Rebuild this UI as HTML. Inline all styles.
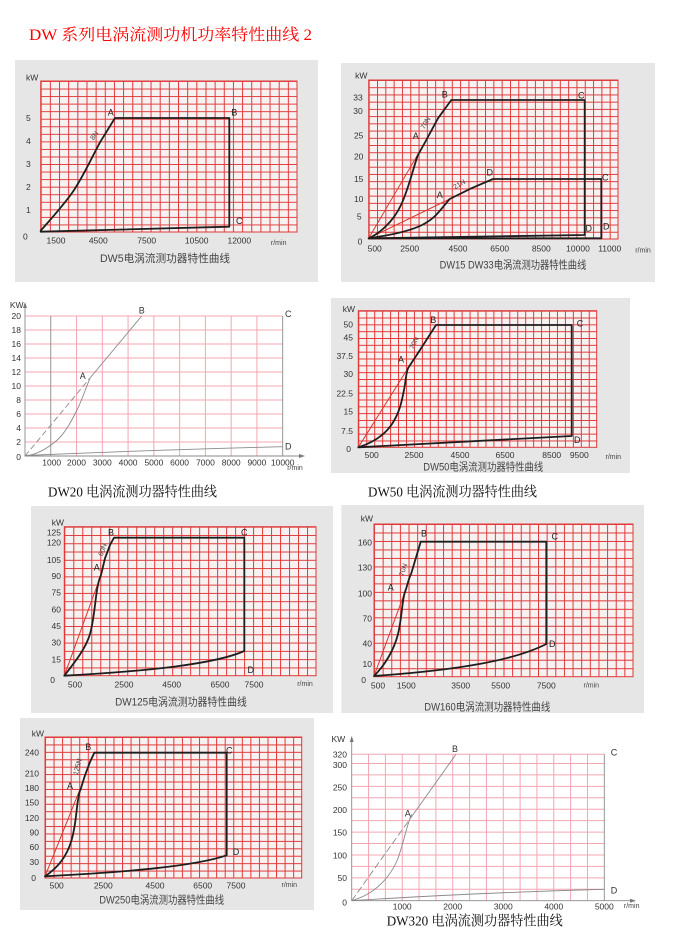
<!DOCTYPE html>
<html><head><meta charset="utf-8">
<style>
html,body{margin:0;padding:0;background:#fff;}
svg{display:block;}
text{font-family:"Liberation Sans","Noto Sans CJK SC",sans-serif;}
.t{font-size:8.5px;fill:#333;}
.tl{font-size:9px;fill:#222;}
.sm{font-size:7px;fill:#444;}
.cap{font-size:11px;fill:#444;}
.ser{font-family:"Liberation Serif","Noto Serif CJK SC",serif;font-size:14px;fill:#111;}
.c{fill:none;stroke:#1e1e1e;stroke-width:1.8;stroke-linejoin:round;stroke-linecap:round;}
.r{fill:none;stroke:#d8382e;stroke-width:1;}
.g{fill:none;stroke:#8a8a8a;stroke-width:0.9;}
.pk{fill:none;stroke:#f4a6b2;stroke-width:1;}
</style></head><body>
<svg width="678" height="935" viewBox="0 0 678 935" xmlns="http://www.w3.org/2000/svg">
<defs>
<pattern id="p1" patternUnits="userSpaceOnUse" x="40.7" y="81" width="9.154" height="7.55"><path d="M0 0.5H9.154M0.5 0V7.55" stroke="#e03a3a" stroke-width="1"/></pattern>
<pattern id="p2" patternUnits="userSpaceOnUse" x="368.7" y="80" width="8.31" height="7.227"><path d="M0 0.5H8.31M0.5 0V7.227" stroke="#e03a3a" stroke-width="1"/></pattern>
<pattern id="p4" patternUnits="userSpaceOnUse" x="358.3" y="310.7" width="7.947" height="6.83"><path d="M0 0.5H7.947M0.5 0V6.83" stroke="#e03a3a" stroke-width="1"/></pattern>
<pattern id="p5" patternUnits="userSpaceOnUse" x="64.3" y="526.7" width="8.99" height="8.278"><path d="M0 0.5H8.99M0.5 0V8.278" stroke="#e03a3a" stroke-width="1"/></pattern>
<pattern id="p6" patternUnits="userSpaceOnUse" x="374" y="524" width="8.633" height="8.483"><path d="M0 0.5H8.633M0.5 0V8.483" stroke="#e03a3a" stroke-width="1"/></pattern>
<pattern id="p7" patternUnits="userSpaceOnUse" x="45" y="737" width="8.557" height="7.421"><path d="M0 0.5H8.557M0.5 0V7.421" stroke="#e03a3a" stroke-width="1"/></pattern>
</defs>

<!-- Title -->
<text x="29" y="40" fill="#f00" font-size="16" textLength="283" lengthAdjust="spacingAndGlyphs" style="font-family:'Liberation Serif','Noto Serif CJK SC',serif;">DW 系列电涡流测功机功率特性曲线 2</text>

<!-- ============ Chart 1 DW5 ============ -->
<rect x="15" y="60" width="303" height="222" fill="#e6e6e6"/>
<rect x="40.7" y="81" width="256.3" height="151" fill="#f6f2f2"/>
<rect x="40.7" y="81" width="256.3" height="151" fill="url(#p1)"/>
<rect x="40.7" y="81" width="256.3" height="151" fill="none" stroke="#e03a3a"/>
<path class="c" d="M40.7,230.7 C50,220 62,207 72,193 S92,157 100,142.3 L115,118 L229.3,118 L229.3,226.7 L40.7,231.7"/>
<g class="tl" text-anchor="middle" dominant-baseline="central">
<text x="110.7" y="112.3">A</text><text x="234.3" y="112.3">B</text><text x="239.3" y="221">C</text>
</g>
<text class="sm" x="95" y="136" text-anchor="middle" dominant-baseline="central" transform="rotate(-55 95 136)">8N</text>
<g class="t" dominant-baseline="central">
<text x="26" y="77.7">kW</text>
<text x="26" y="118">5</text><text x="26" y="141">4</text><text x="26" y="164">3</text><text x="26" y="187">2</text><text x="26" y="210">1</text><text x="23" y="236.7">0</text>
</g>
<g class="t" text-anchor="middle" dominant-baseline="central">
<text x="56" y="240.7">1500</text><text x="98.3" y="240.7">4500</text><text x="146.7" y="240.7">7500</text><text x="196.7" y="240.7">10500</text><text x="239.3" y="240.7">12000</text>
</g>
<text class="sm" x="278.7" y="243.7" text-anchor="middle" dominant-baseline="central">r/min</text>
<text class="cap" x="165" y="259" text-anchor="middle" dominant-baseline="central" textLength="130" lengthAdjust="spacingAndGlyphs">DW5电涡流测功器特性曲线</text>

<!-- ============ Chart 2 DW15 DW33 ============ -->
<rect x="341" y="63" width="314" height="219" fill="#e6e6e6"/>
<rect x="368.7" y="80" width="249.3" height="159" fill="#f6f2f2"/>
<rect x="368.7" y="80" width="249.3" height="159" fill="url(#p2)"/>
<rect x="368.7" y="80" width="249.3" height="159" fill="none" stroke="#e03a3a"/>
<line class="r" x1="368.7" y1="238.3" x2="426.3" y2="140"/>
<line class="r" x1="368.7" y1="238.3" x2="449.7" y2="199"/>
<path class="c" d="M368.7,238.3 C380,233 393,222 401,205 S414,165 418,155 L426.3,140 L438,118.3 L451.3,100 L584.7,100 L584.7,235 L368.7,238.3"/>
<path class="c" d="M368.7,238.3 C385,236 408,232 422,225 S440,210 449.7,199 L471.3,188.3 L493,179 L601.3,179 L601.3,238.3 L368.7,238.3"/>
<g class="tl" text-anchor="middle" dominant-baseline="central">
<text x="415.7" y="136">A</text><text x="444.7" y="94.3">B</text><text x="581.3" y="95.7">C</text>
<text x="439.7" y="195">A</text><text x="489.7" y="172.3">D</text><text x="605.3" y="177.7">C</text>
<text x="588.7" y="228.3">D</text><text x="606.3" y="226.7">D</text>
</g>
<text class="sm" x="426.3" y="123.3" text-anchor="middle" dominant-baseline="central" transform="rotate(-60 426.3 123.3)">70N</text>
<text class="sm" x="459.7" y="185" text-anchor="middle" dominant-baseline="central" transform="rotate(-30 459.7 185)">21N</text>
<g class="t" text-anchor="middle" dominant-baseline="central">
<text x="361.3" y="75.7">kW</text>
<text x="358" y="97.7">33</text><text x="358" y="111">30</text><text x="358.7" y="135.7">25</text><text x="358.7" y="156.7">20</text><text x="358.7" y="179">15</text><text x="358.7" y="199">10</text><text x="359.3" y="216.7">5</text><text x="360" y="241.7">0</text>
<text x="374.7" y="248.3">500</text><text x="409.7" y="248.3">2500</text><text x="458" y="248.3">4500</text><text x="499.7" y="248.3">6500</text><text x="541.3" y="248.3">8500</text><text x="578" y="248.3">10000</text><text x="609.7" y="248.3">11000</text>
</g>
<text class="sm" x="643" y="251" text-anchor="middle" dominant-baseline="central" font-size="6">r/min</text>
<text class="cap" x="513" y="265.7" text-anchor="middle" dominant-baseline="central" textLength="146.7" lengthAdjust="spacingAndGlyphs">DW15  DW33电涡流测功器特性曲线</text>

<!-- ============ Chart 3 DW20 ============ -->
<path class="pk" d="M76.54 316V456M102.31 316V456M128.08 316V456M153.85 316V456M179.62 316V456M205.39 316V456M231.16 316V456M256.93 316V456M25 442H282.7M25 428H282.7M25 414H282.7M25 400H282.7M25 386H282.7M25 372H282.7M25 358H282.7M25 344H282.7M25 330H282.7M25 316H282.7"/>
<path class="g" d="M50.77 316V456M282.7 316V456M25 306V456H302"/>
<path d="M25 302L23 308H27Z" fill="#777"/>
<path d="M305 456L299 454V458Z" fill="#777"/>
<line class="g" x1="25" y1="456" x2="90" y2="378" stroke-dasharray="6 3"/>
<line class="g" x1="90" y1="378" x2="141.7" y2="316"/>
<path class="g" d="M25,456 C35,455 45,450 55,442 S72,420 77,410 S85,390 90,378.3"/>
<path class="g" d="M25 455.5Q150 450 282.7 446.7"/>
<g class="t" text-anchor="middle" dominant-baseline="central" style="font-size:9px">
<text x="82.7" y="376">A</text><text x="141.7" y="310.7">B</text><text x="288.3" y="314">C</text><text x="288.3" y="446.7">D</text>
</g>
<text class="t" x="16.7" y="305" text-anchor="middle" dominant-baseline="central" font-size="8">KW</text>
<g class="t" text-anchor="end" dominant-baseline="central" font-size="8">
<text x="21" y="316">20</text><text x="21" y="330">18</text><text x="21" y="344">16</text><text x="21" y="358">14</text><text x="21" y="372">12</text><text x="21" y="386">10</text><text x="21" y="400">8</text><text x="21" y="414">6</text><text x="21" y="428">4</text><text x="21" y="442">2</text><text x="21" y="457">0</text>
</g>
<g class="t" text-anchor="middle" dominant-baseline="central" font-size="8">
<text x="51.7" y="462.7">1000</text><text x="76.5" y="462.7">2000</text><text x="102.3" y="462.7">3000</text><text x="128.1" y="462.7">4000</text><text x="153.9" y="462.7">5000</text><text x="179.6" y="462.7">6000</text><text x="205.4" y="462.7">7000</text><text x="231.2" y="462.7">8000</text><text x="256.9" y="462.7">9000</text><text x="282.7" y="462.7">10000</text>
</g>
<text class="sm" x="295" y="468.3" text-anchor="middle" dominant-baseline="central">r/min</text>
<text class="ser" x="48" y="493" dominant-baseline="central" textLength="169" lengthAdjust="spacingAndGlyphs">DW20 电涡流测功器特性曲线</text>

<!-- ============ Chart 4 DW50 ============ -->
<rect x="331" y="298" width="299" height="175" fill="#e6e6e6"/>
<rect x="358.3" y="310.7" width="238.4" height="136.6" fill="#f6f2f2"/>
<rect x="358.3" y="310.7" width="238.4" height="136.6" fill="url(#p4)"/>
<rect x="358.3" y="310.7" width="238.4" height="136.6" fill="none" stroke="#e03a3a"/>
<line class="r" x1="358.3" y1="447.3" x2="408.3" y2="367.7"/>
<path class="c" d="M358.3,447.3 C372,443 384,436 392,424 S402,400 404,390 S406,372 408.3,367.7 L420,350 L436,325 L571.7,325 L571.7,436 L358.3,447.3"/>
<g class="tl" text-anchor="middle" dominant-baseline="central">
<text x="433.3" y="320">B</text><text x="580" y="323.3">C</text><text x="577.3" y="440">D</text><text x="401" y="359.3">A</text>
</g>
<text class="sm" x="415" y="343.3" text-anchor="middle" dominant-baseline="central" transform="rotate(-65 415 343.3)">70N</text>
<g class="t" text-anchor="end" dominant-baseline="central">
<text x="355" y="309">kW</text>
<text x="353" y="324.3">50</text><text x="353" y="337.3">45</text><text x="353" y="356">37.5</text><text x="353" y="374">30</text><text x="353" y="393.3">22.5</text><text x="353" y="411.7">15</text><text x="353" y="431">7.5</text><text x="351" y="449">0</text>
</g>
<g class="t" text-anchor="middle" dominant-baseline="central">
<text x="371.7" y="455">500</text><text x="414" y="455">2500</text><text x="460" y="455">4500</text><text x="505" y="455">6500</text><text x="551.7" y="455">8500</text><text x="579.3" y="455">9500</text>
</g>
<text class="sm" x="613.3" y="457.3" text-anchor="middle" dominant-baseline="central" font-size="6">r/min</text>
<text class="cap" x="483.3" y="467.3" text-anchor="middle" dominant-baseline="central" textLength="120" lengthAdjust="spacingAndGlyphs">DW50电涡流测功器特性曲线</text>
<text class="ser" x="368" y="493" dominant-baseline="central" textLength="169" lengthAdjust="spacingAndGlyphs">DW50 电涡流测功器特性曲线</text>

<!-- ============ Chart 5 DW125 ============ -->
<rect x="31" y="506" width="302" height="207" fill="#e6e6e6"/>
<rect x="64.3" y="526.7" width="251.7" height="149" fill="#f6f2f2"/>
<rect x="64.3" y="526.7" width="251.7" height="149" fill="url(#p5)"/>
<rect x="64.3" y="526.7" width="251.7" height="149" fill="none" stroke="#e03a3a"/>
<line class="r" x1="64.3" y1="675.7" x2="101" y2="575"/>
<path class="c" d="M64.3,675.7 C75,662 86,648 90,634 S95,602 97,590 S100,578 101,575 L105,558.3 L110,545 L114,537.7 L244.3,537.7 L244.3,651 C215,664 150,671 64.3,675.7"/>
<g class="tl" text-anchor="middle" dominant-baseline="central">
<text x="111" y="532.3">B</text><text x="244.3" y="532.3">C</text><text x="250.7" y="670">D</text><text x="96.7" y="567.7">A</text>
</g>
<text class="sm" x="103.3" y="550" text-anchor="middle" dominant-baseline="central" transform="rotate(-70 103.3 550)">60N</text>
<g class="t" text-anchor="end" dominant-baseline="central">
<text x="64" y="522.7">kW</text>
<text x="61" y="532.7">125</text><text x="61" y="542.3">120</text><text x="61" y="560">105</text><text x="61" y="576">90</text><text x="61" y="592.7">75</text><text x="61" y="609.3">60</text><text x="61" y="626">45</text><text x="61" y="642.7">30</text><text x="61" y="659.3">15</text><text x="55" y="680">0</text>
</g>
<g class="t" text-anchor="middle" dominant-baseline="central">
<text x="75" y="684.3">500</text><text x="124" y="684.3">2500</text><text x="171.7" y="684.3">4500</text><text x="220" y="684.3">6500</text><text x="254" y="684.3">7500</text>
</g>
<text class="sm" x="305" y="684.3" text-anchor="middle" dominant-baseline="central">r/min</text>
<text class="cap" x="181" y="702.3" text-anchor="middle" dominant-baseline="central" textLength="131.7" lengthAdjust="spacingAndGlyphs">DW125电涡流测功器特性曲线</text>

<!-- ============ Chart 6 DW160 ============ -->
<rect x="341.3" y="505" width="302.7" height="208" fill="#e6e6e6"/>
<rect x="374" y="524" width="259" height="152.7" fill="#f6f2f2"/>
<rect x="374" y="524" width="259" height="152.7" fill="url(#p6)"/>
<rect x="374" y="524" width="259" height="152.7" fill="none" stroke="#e03a3a"/>
<line class="r" x1="374" y1="676" x2="406.3" y2="588.3"/>
<path class="c" d="M374,676 C385,665 394,650 398,634 S402,600 405,592 S408,580 411.3,573.3 L420.7,541.7 L546.3,541.7 L546.3,644 C515,660 460,670 374,676"/>
<g class="tl" text-anchor="middle" dominant-baseline="central">
<text x="424" y="533.3">B</text><text x="554.7" y="536.7">C</text><text x="552.3" y="644">D</text><text x="390.7" y="587.3">A</text>
</g>
<text class="sm" x="404" y="570" text-anchor="middle" dominant-baseline="central" transform="rotate(-72 404 570)">70N</text>
<g class="t" text-anchor="end" dominant-baseline="central">
<text x="373" y="518.3">kW</text>
<text x="372" y="542.3">160</text><text x="372" y="567.3">130</text><text x="372" y="593.3">100</text><text x="372" y="618.3">70</text><text x="372" y="643.3">40</text><text x="372" y="664">10</text><text x="366" y="680">0</text>
</g>
<g class="t" text-anchor="middle" dominant-baseline="central">
<text x="378" y="685.3">500</text><text x="406.3" y="685.3">1500</text><text x="460.7" y="685.3">3500</text><text x="500.7" y="685.3">5500</text><text x="546.3" y="685.3">7500</text>
</g>
<text class="sm" x="591.3" y="686" text-anchor="middle" dominant-baseline="central">r/min</text>
<text class="cap" x="487.3" y="707.3" text-anchor="middle" dominant-baseline="central" textLength="126" lengthAdjust="spacingAndGlyphs">DW160电涡流测功器特性曲线</text>

<!-- ============ Chart 7 DW250 ============ -->
<rect x="20" y="718" width="294" height="192" fill="#e6e6e6"/>
<rect x="45" y="737" width="256.7" height="141" fill="#f6f2f2"/>
<rect x="45" y="737" width="256.7" height="141" fill="url(#p7)"/>
<rect x="45" y="737" width="256.7" height="141" fill="none" stroke="#e03a3a"/>
<line class="r" x1="45" y1="876.3" x2="80" y2="789.3"/>
<path class="c" d="M45,876.3 C56,869 66,858 71,842 S76,812 78,800 S80,792 81,788 L85,775.3 L90,762 L94.3,752.7 L226.7,752.7 L226.7,855.3 C195,866 130,872 45,876.3"/>
<g class="tl" text-anchor="middle" dominant-baseline="central">
<text x="88.3" y="747">B</text><text x="229.3" y="750.3">C</text><text x="236" y="852">D</text><text x="70" y="786">A</text>
</g>
<text class="sm" x="78.3" y="767" text-anchor="middle" dominant-baseline="central" transform="rotate(-75 78.3 767)">125N</text>
<g class="t" text-anchor="end" dominant-baseline="central">
<text x="44" y="733.7">kW</text>
<text x="39" y="752.7">240</text><text x="39" y="773.7">210</text><text x="39" y="788">180</text><text x="39" y="802.7">150</text><text x="39" y="818">120</text><text x="39" y="832.7">90</text><text x="39" y="847">60</text><text x="39" y="862">30</text><text x="36" y="878">0</text>
</g>
<g class="t" text-anchor="middle" dominant-baseline="central">
<text x="56.7" y="885.3">500</text><text x="103.3" y="885.3">2500</text><text x="155" y="885.3">4500</text><text x="202.7" y="885.3">6500</text><text x="236" y="885.3">7500</text>
</g>
<text class="sm" x="289.3" y="885.3" text-anchor="middle" dominant-baseline="central">r/min</text>
<text class="cap" x="161.7" y="900.3" text-anchor="middle" dominant-baseline="central" textLength="125" lengthAdjust="spacingAndGlyphs">DW250电涡流测功器特性曲线</text>

<!-- ============ Chart 8 DW320 ============ -->
<path class="pk" d="M368.54 754.3V900.7M385.38 754.3V900.7M402.22 754.3V900.7M419.06 754.3V900.7M435.9 754.3V900.7M452.74 754.3V900.7M469.58 754.3V900.7M486.42 754.3V900.7M503.26 754.3V900.7M520.1 754.3V900.7M536.94 754.3V900.7M553.78 754.3V900.7M570.62 754.3V900.7M587.46 754.3V900.7M351.7 889.26H604.3M351.7 877.83H604.3M351.7 866.39H604.3M351.7 854.95H604.3M351.7 843.51H604.3M351.7 832.08H604.3M351.7 820.64H604.3M351.7 809.2H604.3M351.7 797.76H604.3M351.7 786.33H604.3M351.7 774.89H604.3M351.7 763.45H604.3M351.7 754.3H604.3"/>
<path class="g" d="M604.3 754.3V900.7M351.7 740V900.7H632"/>
<path d="M351.7 736L349.7 742H353.7Z" fill="#777"/>
<path d="M636 900.7L630 898.7V902.7Z" fill="#777"/>
<line class="g" x1="351.7" y1="900.7" x2="411.7" y2="816.5" stroke-dasharray="7 3"/>
<line class="g" x1="411.7" y1="816.5" x2="456" y2="754.3"/>
<path class="g" d="M351.7,900.7 C365,897 378,889 388,876 S400,852 403,842 S408,822 411.7,814.3"/>
<path class="g" d="M351.7 900.7Q470 893 604.3 889.3"/>
<g class="t" text-anchor="middle" dominant-baseline="central" style="font-size:9px">
<text x="455" y="749">B</text><text x="614" y="752.3">C</text><text x="614" y="890.7">D</text><text x="407.7" y="813.3">A</text>
</g>
<text class="t" x="338.3" y="739" text-anchor="middle" dominant-baseline="central" font-size="8">KW</text>
<g class="t" text-anchor="end" dominant-baseline="central" font-size="8">
<text x="347" y="754.3">320</text><text x="347" y="765">300</text><text x="347" y="787.5">250</text><text x="347" y="810">200</text><text x="347" y="832.5">150</text><text x="347" y="855.3">100</text><text x="347" y="878">50</text><text x="347" y="902.3">0</text>
</g>
<g class="t" text-anchor="middle" dominant-baseline="central" font-size="8">
<text x="402.2" y="906.7">1000</text><text x="452.7" y="906.7">2000</text><text x="503.3" y="906.7">3000</text><text x="553.8" y="906.7">4000</text><text x="604.3" y="906.7">5000</text>
</g>
<text class="sm" x="631.7" y="906.7" text-anchor="middle" dominant-baseline="central">r/min</text>
<text class="ser" x="386.7" y="922" dominant-baseline="central" textLength="176" lengthAdjust="spacingAndGlyphs">DW320 电涡流测功器特性曲线</text>
</svg>
</body></html>
